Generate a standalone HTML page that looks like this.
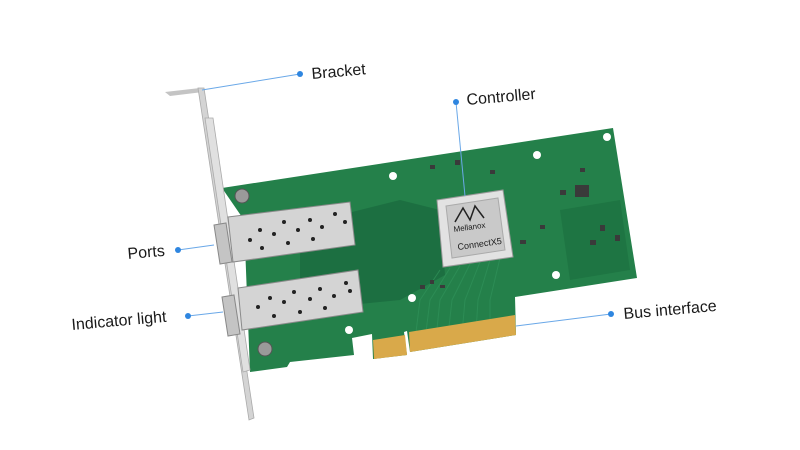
<!DOCTYPE html>
<html><head><meta charset="utf-8"><style>
html,body{margin:0;padding:0;background:#fff;}
svg{display:block}
text{font-family:"Liberation Sans",sans-serif;font-size:16px;fill:#1a1a1a;}
</style></head><body>
<svg width="800" height="450" viewBox="0 0 800 450" xmlns="http://www.w3.org/2000/svg">
<!-- PCB -->
<path d="M222,188 L613,128 L637,278 L515,297 L516,335 L410,352 L407,331 L404,332 L407,355 L373,359 L372,334 L352,338 L354,355 L290,362 L287,367 L250,372 L244,220 Z" fill="#24804a"/>
<path d="M300,225 L400,200 L440,210 L445,275 L400,300 L300,310 Z" fill="#1a6a3e" opacity="0.8"/>
<path d="M560,210 L620,200 L630,270 L570,280 Z" fill="#1d7040" opacity="0.7"/>
<!-- traces -->
<g stroke="#2f9058" stroke-width="1" fill="none" opacity="0.8">
<path d="M440,270 L420,300 L415,340"/><path d="M450,268 L430,300 L425,340"/><path d="M460,266 L440,300 L436,338"/><path d="M470,264 L452,300 L448,336"/><path d="M480,262 L465,300 L462,334"/><path d="M490,260 L478,300 L476,332"/><path d="M500,258 L490,300 L490,330"/>
</g>
<!-- components -->
<g fill="#3a3a3a">
<rect x="575" y="185" width="14" height="12"/><rect x="560" y="190" width="6" height="5"/><rect x="580" y="168" width="5" height="4"/>
<rect x="520" y="240" width="6" height="4"/><rect x="540" y="225" width="5" height="4"/><rect x="590" y="240" width="6" height="5"/>
<rect x="455" y="160" width="5" height="5"/><rect x="430" y="165" width="5" height="4"/><rect x="490" y="170" width="5" height="4"/>
<rect x="420" y="285" width="5" height="4"/><rect x="430" y="280" width="4" height="4"/><rect x="440" y="285" width="5" height="3"/>
<rect x="600" y="225" width="5" height="6"/><rect x="615" y="235" width="5" height="6"/>
</g>
<g fill="#fff">
<circle cx="393" cy="176" r="4"/><circle cx="537" cy="155" r="4"/><circle cx="607" cy="137" r="4"/><circle cx="556" cy="275" r="4"/><circle cx="412" cy="298" r="4"/><circle cx="349" cy="330" r="4"/>
</g>
<circle cx="242" cy="196" r="7" fill="#9a9a9a" stroke="#555"/>
<circle cx="265" cy="349" r="7" fill="#9a9a9a" stroke="#555"/>
<!-- bracket -->
<path d="M165,92 L200,88 L203,92 L170,96 Z" fill="#c4c4c4"/>
<path d="M198,88 L204,88 L254,418 L249,420 Z" fill="#d4d4d4" stroke="#aaa" stroke-width="0.8"/>
<path d="M205,118 L213,118 L250,370 L243,372 Z" fill="#e0e0e0" stroke="#aaa" stroke-width="0.8"/>
<!-- SFP cages -->
<path d="M228,217 L350,202 L355,245 L233,262 Z" fill="#d4d4d4" stroke="#8a8a8a"/>
<path d="M238,288 L358,270 L363,312 L242,330 Z" fill="#d4d4d4" stroke="#8a8a8a"/>
<path d="M214,225 L226,223 L232,262 L220,264 Z" fill="#c4c4c4" stroke="#888"/>
<path d="M222,297 L234,295 L240,334 L228,336 Z" fill="#c4c4c4" stroke="#888"/>
<g fill="#222">
<circle cx="260" cy="230" r="2"/><circle cx="284" cy="222" r="2"/><circle cx="310" cy="220" r="2"/><circle cx="335" cy="214" r="2"/>
<circle cx="250" cy="240" r="2"/><circle cx="274" cy="234" r="2"/><circle cx="298" cy="230" r="2"/><circle cx="322" cy="227" r="2"/><circle cx="345" cy="222" r="2"/>
<circle cx="262" cy="248" r="2"/><circle cx="288" cy="243" r="2"/><circle cx="313" cy="239" r="2"/>
<circle cx="270" cy="298" r="2"/><circle cx="294" cy="292" r="2"/><circle cx="320" cy="289" r="2"/><circle cx="346" cy="283" r="2"/>
<circle cx="258" cy="307" r="2"/><circle cx="284" cy="302" r="2"/><circle cx="310" cy="299" r="2"/><circle cx="334" cy="296" r="2"/><circle cx="350" cy="291" r="2"/>
<circle cx="274" cy="316" r="2"/><circle cx="300" cy="312" r="2"/><circle cx="325" cy="308" r="2"/>
</g>
<!-- gold fingers -->
<path d="M409,332 L515,315 L516,335 L410,352 Z" fill="#d9a94a"/>
<path d="M373,340 L405,335 L407,355 L374,359 Z" fill="#d9a94a"/>
<!-- chip -->
<path d="M437,200 L503,190 L513,257 L443,267 Z" fill="#e2e2e2" stroke="#999"/>
<path d="M446,206 L498,198 L505,250 L452,258 Z" fill="#c9c9c9" stroke="#aaa"/>
<path d="M455,222 L463,208 L470,220 L475,206 L484,218" stroke="#222" stroke-width="1.5" fill="none"/>
<text x="454" y="232" style="font-size:8px" transform="rotate(-8 454 232)">Mellanox</text>
<text x="458" y="250" style="font-size:9px" transform="rotate(-8 458 250)">ConnectX5</text>
<!-- leader lines -->
<g stroke="#6aa8e8" stroke-width="1" fill="none">
<line x1="202" y1="90" x2="300" y2="74"/>
<line x1="456" y1="102" x2="465" y2="196"/>
<line x1="178" y1="250" x2="214" y2="245"/>
<line x1="188" y1="316" x2="223" y2="312"/>
<line x1="611" y1="314" x2="516" y2="326"/>
</g>
<g fill="#2f86e0">
<circle cx="300" cy="74" r="3"/><circle cx="456" cy="102" r="3"/><circle cx="178" cy="250" r="3"/><circle cx="188" cy="316" r="3"/><circle cx="611" cy="314" r="3"/>
</g>
<text x="312" y="79" transform="rotate(-5 312 79)">Bracket</text>
<text x="467" y="105" transform="rotate(-5 467 105)">Controller</text>
<text x="128" y="259" transform="rotate(-5 128 259)">Ports</text>
<text x="72" y="330" transform="rotate(-5 72 330)">Indicator light</text>
<text x="624" y="319" transform="rotate(-5 624 319)">Bus interface</text>
</svg>
</body></html>
